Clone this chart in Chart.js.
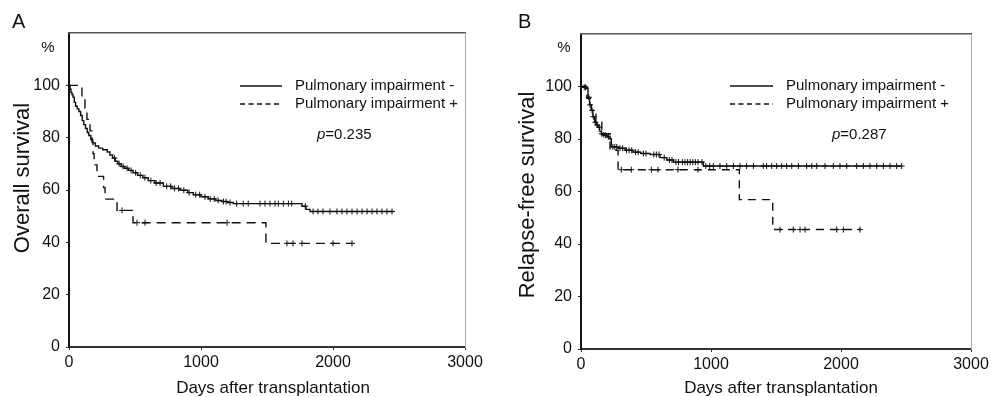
<!DOCTYPE html>
<html lang="en">
<head>
    <meta charset="UTF-8">
    <title>Survival by pulmonary impairment</title>
    <script src="https://cdn.jsdelivr.net/npm/chart.js"></script>
    <style>
        body { margin: 0; background: #fff; }
        #wrap { position: relative; width: 1002px; height: 397px; }
        canvas { position: absolute; top: 0; }
        #chartA { left: 0; }
        #chartB { left: 501px; }
    </style>
</head>
<body>
<div id="wrap">
    <canvas id="chartA" width="501" height="397"></canvas>
    <canvas id="chartB" width="501" height="397"></canvas>
</div>
<script>
    const FONT = "'Liberation Sans', Arial, sans-serif";

    // axis ticks (both panels)
    const xTicks = [0, 1000, 2000, 3000];
    const yTicks = [0, 20, 40, 60, 80, 100];
    const seriesNames = ['Pulmonary impairment -', 'Pulmonary impairment +'];

    // A: overall survival, impairment -
    const osDaysNeg = [0, 8, 15, 22, 30, 40, 50, 62, 75, 88, 100, 112, 125, 138, 150, 165, 180, 200, 225, 255,
        290, 310, 330, 350, 370, 395, 420, 450, 485, 520, 560, 600, 650, 715, 780, 841, 900, 942, 1000, 1055,
        1110, 1157, 1200, 1245, 1765, 1795, 1826, 2457];
    const osSurvNeg = [100, 98.5, 97.3, 96.5, 95.5, 93.5, 92, 91, 90, 88.5, 86.5, 85, 83.5, 82, 80.8, 79.3, 78, 76.8, 76, 75.4,
        74.5, 73.4, 72.2, 71, 70, 69, 68.3, 67.5, 66.6, 65.6, 64.7, 63.6, 62.7, 61.4, 60.6, 59.9, 59, 58.2, 57.4, 56.6,
        56, 55.6, 55.2, 54.8, 53.8, 52.6, 51.8, 51.8];
    const osCensorNeg = [345, 380, 410, 440, 470, 505, 540, 575, 620, 660, 690, 740, 770, 800, 830, 870, 910, 960, 990,
        1030, 1070, 1100, 1130, 1170, 1190, 1220, 1270, 1320, 1358, 1447, 1485, 1523, 1561, 1586, 1624, 1662, 1687,
        1790, 1849, 1886, 1924, 1977, 2030, 2068, 2106, 2144, 2182, 2220, 2258, 2296, 2333, 2371, 2409, 2447];

    // A: overall survival, impairment +
    const osDaysPos = [0, 98, 121, 136, 159, 174, 182, 190, 212, 262, 273, 364, 485, 1492, 2144];
    const osSurvPos = [100, 95.7, 91.3, 87, 82.6, 78.3, 73.9, 69.6, 65.2, 60.9, 56.5, 52.2, 47.5, 39.6, 39.6];
    const osCensorPos = [402, 515, 576, 1197, 1651, 1697, 1765, 2000, 2144];

    // B: relapse-free survival, impairment -
    const rfsDaysNeg = [0, 20, 41, 54, 66, 79, 92, 105, 118, 131, 143, 156, 170, 182, 200, 221, 233, 290, 340, 400,
        460, 531, 608, 660, 710, 941, 2467];
    const rfsSurvNeg = [100, 99.7, 99.2, 95.9, 93, 90.9, 88.5, 86.4, 85.3, 84.5, 83, 82, 81.6, 81.4, 80.8, 80.1, 77, 76.5, 75.7, 75,
        74.5, 74.1, 72.9, 72, 71.2, 69.7, 69.7];
    const rfsCensorNeg = [25, 35, 60, 70, 85, 95, 110, 125, 140, 160, 175, 190, 210, 245, 260, 275, 300, 320, 350, 370,
        390, 420, 440, 480, 500, 560, 580, 600, 640, 680, 700, 730, 750, 780, 800, 820, 840, 860, 880, 900, 930, 960,
        990, 1018, 1069, 1121, 1172, 1223, 1274, 1326, 1402, 1428, 1467, 1505, 1544, 1582, 1621, 1672, 1736, 1775,
        1813, 1877, 1941, 1992, 2044, 2121, 2172, 2223, 2275, 2326, 2377, 2428, 2467];

    // B: relapse-free survival, impairment +
    const rfsDaysPos = [0, 45, 80, 115, 160, 223, 285, 1218, 1475, 2150];
    const rfsSurvPos = [100, 95.5, 91, 86.5, 82, 75.7, 68.3, 56.9, 45.5, 45.5];
    const rfsCensorPos = [310, 387, 541, 592, 746, 900, 1531, 1633, 1685, 1723, 1967, 2018, 2146];

    // value of a step curve at time t (censor marks sit on the curve)
    function survivalAt(days, surv, t) {
        let s = surv[0];
        for (let i = 0; i < days.length; i++) {
            if (days[i] <= t) s = surv[i];
        }
        return s;
    }

    function curve(label, days, surv, dash) {
        return {
            label: label,
            data: days.map((d, i) => ({ x: d, y: surv[i] })),
            stepped: 'before',
            borderColor: '#111',
            borderWidth: 1.4,
            borderDash: dash,
            pointRadius: 0,
            fill: false,
            xAxisID: 'x',
            yAxisID: 'y'
        };
    }

    function censors(label, times, days, surv) {
        return {
            label: label + ' censored',
            data: times.map(t => ({ x: t, y: survivalAt(days, surv, t) })),
            showLine: false,
            pointStyle: 'cross',
            pointRadius: 3,
            borderColor: '#111',
            borderWidth: 1,
            xAxisID: 'x',
            yAxisID: 'y'
        };
    }

    // text that sits around / inside the plot: panel letter, %, titles, legend, p value
    const panelText = {
        id: 'panelText',
        afterDraw(chart, args, o) {
            const ctx = chart.ctx;
            ctx.save();
            ctx.fillStyle = '#111';
            ctx.textBaseline = 'middle';

            ctx.font = '20px ' + FONT;
            ctx.textAlign = 'left';
            ctx.fillText(o.letter, o.letterX, o.letterY);

            ctx.font = '15px ' + FONT;
            ctx.textAlign = 'center';
            ctx.fillText('%', o.pctX, 48);

            ctx.font = '17px ' + FONT;
            ctx.fillText('Days after transplantation', o.xTitleX, 388);

            ctx.save();
            ctx.translate(o.yTitleX, o.yTitleY);
            ctx.rotate(-Math.PI / 2);
            ctx.font = '22px ' + FONT;
            ctx.fillText(o.yTitle, 0, 0);
            ctx.restore();

            // legend
            ctx.strokeStyle = '#111';
            ctx.lineWidth = 1.3;
            ctx.beginPath();
            ctx.moveTo(o.legX1, 86);
            ctx.lineTo(o.legX2, 86);
            ctx.stroke();
            ctx.setLineDash([5, 3.5]);
            ctx.beginPath();
            ctx.moveTo(o.legX1, 104);
            ctx.lineTo(o.legX2, 104);
            ctx.stroke();
            ctx.setLineDash([]);

            ctx.font = '15px ' + FONT;
            ctx.textAlign = 'left';
            ctx.fillText(seriesNames[0], o.legTextX, 86);
            ctx.fillText(seriesNames[1], o.legTextX, 104);

            ctx.font = 'italic 15px ' + FONT;
            ctx.fillText('p', o.pX, 135);
            const pw = ctx.measureText('p').width;
            ctx.font = '15px ' + FONT;
            ctx.fillText('=' + o.pValue, o.pX + pw, 135);
            ctx.restore();
        }
    };

    function makeChart(id, datasets, p) {
        return new Chart(document.getElementById(id), {
            type: 'line',
            data: { datasets: datasets },
            options: {
                responsive: false,
                animation: false,
                devicePixelRatio: 1,
                layout: { padding: { left: 0, right: p.padRight, top: p.padTop, bottom: 0 } },
                plugins: {
                    legend: { display: false },
                    tooltip: { enabled: false },
                    panelText: p.text
                },
                scales: {
                    x: {
                        type: 'linear',
                        position: 'bottom',
                        min: 0,
                        max: 3000,
                        afterBuildTicks: s => { s.ticks = xTicks.map(v => ({ value: v })); },
                        afterFit: s => { s.height = p.xHeight; },
                        grid: { display: true, drawOnChartArea: false, drawTicks: true, tickLength: 3, color: '#333' },
                        border: { color: '#333', width: 2 },
                        ticks: {
                            color: '#111', font: { family: FONT, size: 16 }, padding: 3, maxRotation: 0,
                            callback: v => String(v)
                        }
                    },
                    y: {
                        type: 'linear',
                        position: 'left',
                        min: 0,
                        max: 120,
                        afterBuildTicks: s => { s.ticks = yTicks.map(v => ({ value: v })); },
                        afterFit: s => { s.width = p.yWidth; },
                        grid: { display: true, drawOnChartArea: false, drawTicks: true, tickLength: 3, color: '#222' },
                        border: { color: '#111', width: 2 },
                        ticks: { color: '#111', font: { family: FONT, size: 16 }, padding: 6 }
                    },
                    xTop: {
                        type: 'linear',
                        position: 'top',
                        min: 0,
                        max: 3000,
                        grid: { display: false, drawTicks: false },
                        ticks: { display: false },
                        border: { color: '#555', width: 1.5 }
                    },
                    yRight: {
                        type: 'linear',
                        position: 'right',
                        min: 0,
                        max: 120,
                        grid: { display: false, drawTicks: false },
                        ticks: { display: false },
                        border: { color: '#aaa', width: 1, dash: [1, 1] }
                    }
                }
            },
            plugins: [panelText]
        });
    }

    makeChart('chartA', [
        curve(seriesNames[0], osDaysNeg, osSurvNeg, []),
        curve(seriesNames[1], osDaysPos, osSurvPos, [9, 6]),
        censors(seriesNames[0], osCensorNeg, osDaysNeg, osSurvNeg),
        censors(seriesNames[1], osCensorPos, osDaysPos, osSurvPos)
    ], {
        padRight: 36, padTop: 33, xHeight: 50, yWidth: 69,
        text: {
            letter: 'A', letterX: 12, letterY: 22, pctX: 48,
            yTitle: 'Overall survival', yTitleX: 23, yTitleY: 178,
            xTitleX: 273,
            legX1: 240, legX2: 282, legTextX: 295,
            pX: 317, pValue: '0.235'
        }
    });

    makeChart('chartB', [
        curve(seriesNames[0], rfsDaysNeg, rfsSurvNeg, []),
        curve(seriesNames[1], rfsDaysPos, rfsSurvPos, [8, 6]),
        censors(seriesNames[0], rfsCensorNeg, rfsDaysNeg, rfsSurvNeg),
        censors(seriesNames[1], rfsCensorPos, rfsDaysPos, rfsSurvPos)
    ], {
        padRight: 31, padTop: 34, xHeight: 48, yWidth: 80,
        text: {
            letter: 'B', letterX: 17, letterY: 22, pctX: 63,
            yTitle: 'Relapse-free survival', yTitleX: 27, yTitleY: 195,
            xTitleX: 280,
            legX1: 229, legX2: 272, legTextX: 285,
            pX: 331, pValue: '0.287'
        }
    });
</script>
</body>
</html>
